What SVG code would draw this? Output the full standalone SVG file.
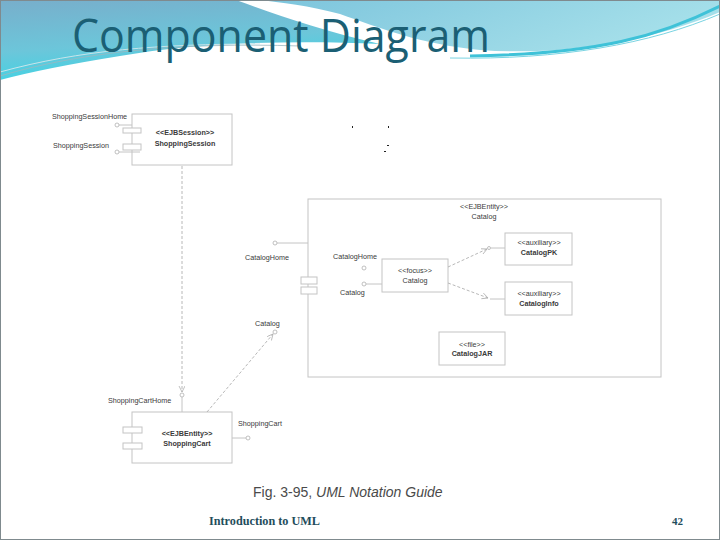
<svg xmlns="http://www.w3.org/2000/svg" width="720" height="540" viewBox="0 0 720 540">
<defs>
<linearGradient id="gl" x1="0" y1="0" x2="0.3" y2="1">
<stop offset="0" stop-color="#78aecb"/>
<stop offset="0.6" stop-color="#6cc6da"/>
<stop offset="1" stop-color="#3fd4e4"/>
</linearGradient>
<linearGradient id="gr" x1="0" y1="0" x2="1" y2="0.3">
<stop offset="0" stop-color="#7cc4dc"/>
<stop offset="1" stop-color="#a6e0ea"/>
</linearGradient>
<marker id="ah" markerWidth="8" markerHeight="8" refX="6" refY="3" orient="auto" markerUnits="userSpaceOnUse">
<path d="M0,0 L6,3 L0,6" fill="none" stroke="#b0b0b0" stroke-width="0.8"/>
</marker>
<style>
.t{font-family:"Liberation Sans",Arial,sans-serif;font-size:7.2px;fill:#3a3a3a}
.b{font-weight:bold}
.m{text-anchor:middle}
.box{fill:#fff;stroke:#c4c4c4;stroke-width:1}
.frame{fill:none;stroke:#c4c4c4;stroke-width:1}
.ln{stroke:#c4c4c4;stroke-width:1;fill:none}
.dash{stroke:#b8b8b8;stroke-width:1;fill:none;stroke-dasharray:3,2}
.lol{fill:#fff;stroke:#b0b0b0;stroke-width:0.8}
</style>
</defs>
<rect width="720" height="540" fill="#fff"/>
<!-- header -->
<path d="M0,0 H236 C275,14 320,30 380,44 C300,40 200,42 120,56 C70,64 30,72 0,80 Z" fill="url(#gl)"/>
<path d="M258,0 H720 V12 C650,42 560,56 480,50 C420,44 380,28 340,14 C310,6 280,2 258,0 Z" fill="url(#gr)"/>
<path d="M720,6 C660,36 600,54 470,56" fill="none" stroke="#3fc2d8" stroke-width="3"/>
<path d="M720,14 C650,44 560,60 450,58" fill="none" stroke="#7ad4e2" stroke-width="1"/>
<path d="M0,76 C80,52 180,42 300,46" fill="none" stroke="#9cb8c0" stroke-width="0.8"/>
<path d="M0,72 C80,50 160,44 260,44" fill="none" stroke="#c8e4ea" stroke-width="1"/>
<text x="72" y="52" font-family="'Open Sans','Noto Sans',sans-serif" font-size="45" fill="#1b5f74" textLength="418" lengthAdjust="spacingAndGlyphs">Component Diagram</text>
<rect x="0.5" y="0.5" width="719" height="539" fill="none" stroke="#7f8a8e" stroke-width="1"/>

<!-- ShoppingSession -->
<g id="shoppingSession">
<rect class="box" x="132" y="114" width="100" height="51"/>
<rect class="box" x="123" y="128" width="18" height="5"/>
<rect class="box" x="123" y="144" width="18" height="6"/>
<text class="t" x="52" y="119">ShoppingSessionHome</text>
<text class="t" x="53" y="148">ShoppingSession</text>
<text class="t b m" x="185" y="135">&lt;&lt;EJBSession&gt;&gt;</text>
<text class="t b m" x="185" y="146">ShoppingSession</text>
</g>

<!-- ShoppingCart -->
<g id="shoppingCart">
<text class="t" x="108" y="403">ShoppingCartHome</text>
<rect class="box" x="132" y="412" width="100" height="51"/>
<rect class="box" x="123" y="427" width="19" height="6"/>
<rect class="box" x="123" y="443" width="19" height="6"/>
<text class="t b m" x="187" y="436">&lt;&lt;EJBEntity&gt;&gt;</text>
<text class="t b m" x="187" y="446">ShoppingCart</text>
<text class="t" x="238" y="426">ShoppingCart</text>
</g>

<!-- Catalog interface used by ShoppingCart -->
<g id="catalogInterface">
<text class="t" x="255" y="326">Catalog</text>
</g>

<!-- Catalog EJB Entity -->
<g id="catalog">
<rect class="frame" x="308" y="199" width="353" height="178"/>
<text class="t m" x="484" y="209">&lt;&lt;EJBEntity&gt;&gt;</text>
<text class="t m" x="484" y="219">Catalog</text>
<text class="t" x="245" y="260">CatalogHome</text>
<rect class="box" x="301" y="277" width="16" height="7"/>
<rect class="box" x="301" y="287" width="16" height="7"/>
</g>

<g id="catalogFocus">
<text class="t" x="333" y="259">CatalogHome</text>
<text class="t" x="340" y="295">Catalog</text>
<rect class="box" x="382" y="259" width="66" height="33"/>
<text class="t m" x="415" y="273">&lt;&lt;focus&gt;&gt;</text>
<text class="t m" x="415" y="283">Catalog</text>
</g>

<g id="catalogPK">
<rect class="box" x="505" y="233" width="67" height="32"/>
<text class="t m" x="539" y="245">&lt;&lt;auxiliary&gt;&gt;</text>
<text class="t b m" x="539" y="255">CatalogPK</text>
</g>

<g id="catalogInfo">
<rect class="box" x="505" y="282" width="67" height="33"/>
<text class="t m" x="539" y="296">&lt;&lt;auxiliary&gt;&gt;</text>
<text class="t b m" x="539" y="306">CatalogInfo</text>
</g>

<g id="catalogJAR">
<rect class="box" x="439" y="332" width="66" height="33"/>
<text class="t m" x="472" y="347">&lt;&lt;file&gt;&gt;</text>
<text class="t b m" x="472" y="356">CatalogJAR</text>
</g>

<!-- connectors -->
<g id="connectors">
<line class="dash" x1="182" y1="166" x2="182" y2="392" marker-end="url(#ah)"/>
<line class="ln" x1="182" y1="397" x2="182" y2="412"/>
<line class="dash" x1="207" y1="412" x2="273" y2="334" marker-end="url(#ah)"/>
<line class="ln" x1="119" y1="125" x2="132" y2="125"/>
<line class="ln" x1="119" y1="152" x2="140" y2="152"/>
<line class="ln" x1="232" y1="438" x2="246" y2="438"/>
<line class="ln" x1="277" y1="243" x2="308" y2="243"/>
<line class="ln" x1="366" y1="284" x2="382" y2="284"/>
<line class="dash" x1="448" y1="267" x2="487" y2="249" marker-end="url(#ah)"/>
<line class="ln" x1="491" y1="248" x2="505" y2="248"/>
<line class="dash" x1="448" y1="283" x2="488" y2="298" marker-end="url(#ah)"/>
<line class="ln" x1="490" y1="299" x2="505" y2="299"/>
<circle class="lol" cx="117" cy="125" r="2"/>
<circle class="lol" cx="117" cy="152" r="2"/>
<circle class="lol" cx="182" cy="395" r="2"/>
<circle class="lol" cx="248" cy="438" r="2"/>
<circle class="lol" cx="275" cy="332" r="2"/>
<circle class="lol" cx="275" cy="243" r="2"/>
<circle class="lol" cx="364" cy="268" r="2"/>
<circle class="lol" cx="364" cy="284" r="2"/>
<circle class="lol" cx="489" cy="248" r="1.5"/>
</g>

<!-- stray marks -->
<rect x="352" y="126" width="1" height="2" fill="#222"/>
<rect x="388" y="126" width="1" height="2" fill="#222"/>
<rect x="387" y="145" width="2" height="1" fill="#222"/>
<rect x="384" y="151" width="2" height="1" fill="#222"/>

<!-- caption and footer -->
<text x="253" y="497" font-family="'Liberation Sans',Arial,sans-serif" font-size="14" fill="#4a4a4a">Fig. 3-95, <tspan font-style="italic">UML Notation Guide</tspan></text>
<text x="209" y="525" font-family="'Liberation Serif','Times New Roman',serif" font-size="11.5" font-weight="bold" fill="#1f4d5c" textLength="111" lengthAdjust="spacingAndGlyphs">Introduction to UML</text>
<text x="672" y="525" font-family="'Liberation Serif','Times New Roman',serif" font-size="11" font-weight="bold" fill="#1f4d5c">42</text>
</svg>
